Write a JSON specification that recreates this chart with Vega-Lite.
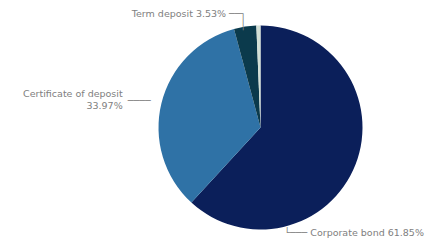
{
  "$schema": "https://vega.github.io/schema/vega-lite/v6.json",
  "autosize": {"type": "none"},
  "width": 337,
  "height": 231,
  "padding": {"left": 92, "top": 12, "right": 0, "bottom": 0},
  "background": "#ffffff",
  "config": {"view": {"stroke": null}},
  "data": {
    "values": [
      {"cat": "Corporate bond", "value": 61.85, "rank": 1, "label": "Corporate bond 61.85%"},
      {"cat": "Certificate of deposit", "value": 33.97, "rank": 2, "label": "Certificate of deposit\n33.97%"},
      {"cat": "Term deposit", "value": 3.53, "rank": 3, "label": "Term deposit 3.53%"},
      {"cat": "Other", "value": 0.65, "rank": 4, "label": ""}
    ]
  },
  "encoding": {
    "theta": {"field": "value", "type": "quantitative", "stack": true},
    "order": {"field": "rank", "type": "ordinal"}
  },
  "layer": [
    {
      "mark": {"type": "arc", "outerRadius": 102},
      "encoding": {
        "color": {
          "field": "cat",
          "type": "nominal",
          "scale": {
            "domain": ["Corporate bond", "Certificate of deposit", "Term deposit", "Other"],
            "range": ["#0b1f5a", "#2f72a6", "#0b3a4c", "#d3e0d6"]
          },
          "legend": null
        }
      }
    },
    {
      "mark": {"type": "text", "radius": 114, "align": "right", "baseline": "middle", "dx": 3, "dy": -1, "font": "DejaVu Sans", "fontSize": 9.5, "color": "#808080"},
      "encoding": {
        "text": {"condition": {"test": "datum.cat === 'Term deposit'", "value": "Term deposit 3.53% ──┐"}, "value": ""}
      }
    },
    {
      "mark": {"type": "text", "radius": 114, "align": "right", "baseline": "middle", "dx": 3, "dy": 10, "font": "DejaVu Sans", "fontSize": 9.5, "color": "#808080"},
      "encoding": {
        "text": {"condition": {"test": "datum.cat === 'Term deposit'", "value": "│"}, "value": ""}
      }
    },
    {
      "mark": {"type": "text", "radius": 110, "align": "right", "baseline": "middle", "dx": -31, "dy": -7, "lineBreak": "\n", "lineHeight": 12, "font": "DejaVu Sans", "fontSize": 9.5, "color": "#808080"},
      "encoding": {
        "text": {"condition": {"test": "datum.cat === 'Certificate of deposit'", "field": "label"}, "value": ""}
      }
    },
    {
      "mark": {"type": "text", "radius": 110, "align": "right", "baseline": "middle", "dx": -3, "font": "DejaVu Sans", "fontSize": 9.5, "color": "#808080"},
      "encoding": {
        "text": {"condition": {"test": "datum.cat === 'Certificate of deposit'", "value": "────"}, "value": ""}
      }
    },
    {
      "mark": {"type": "text", "radius": 104, "align": "left", "baseline": "middle", "dx": -73, "dy": 68, "font": "DejaVu Sans", "fontSize": 9.5, "color": "#808080"},
      "encoding": {
        "text": {"condition": {"test": "datum.cat === 'Corporate bond'", "value": "└─── Corporate bond 61.85%"}, "value": ""}
      }
    }
  ]
}
